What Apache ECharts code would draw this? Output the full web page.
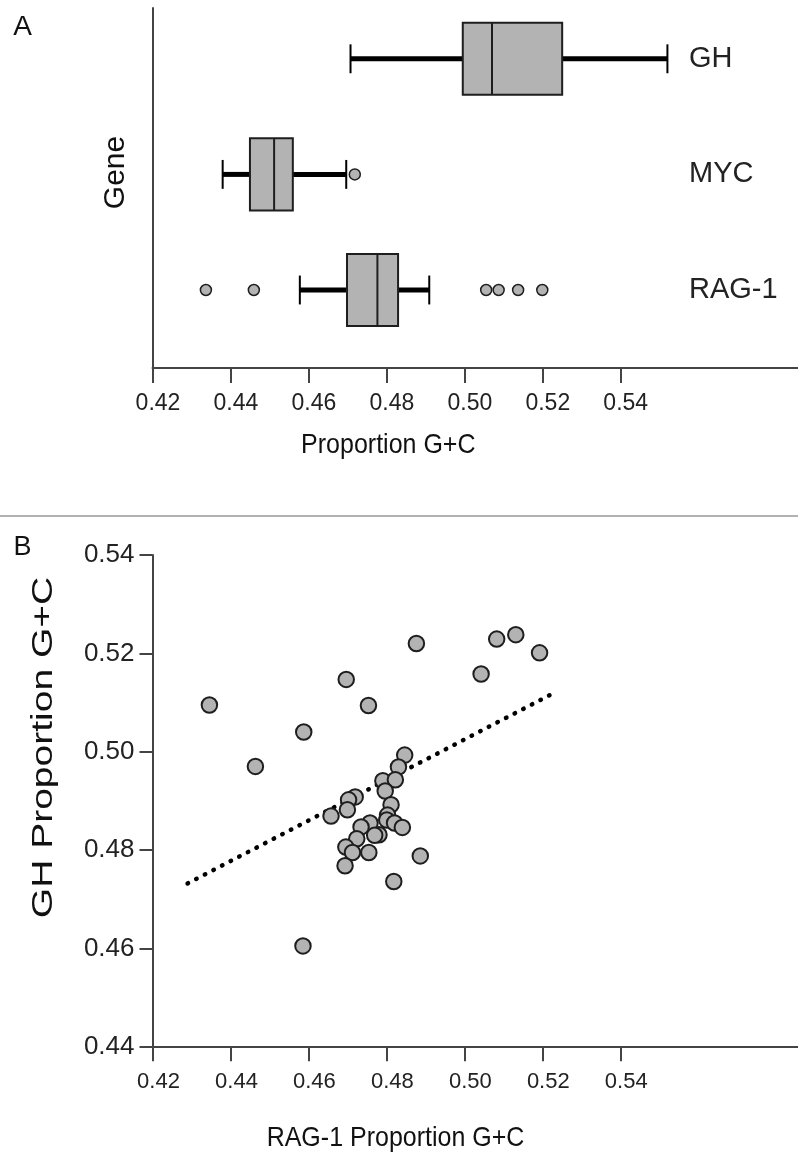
<!DOCTYPE html>
<html>
<head>
<meta charset="utf-8">
<script src="https://cdn.jsdelivr.net/npm/echarts@6/dist/echarts.min.js"></script>
<style>
html,body{margin:0;padding:0;background:#fff;}
#chart{width:798px;height:1153px;}
</style>
</head>
<body>
<div id="chart"></div>
<script>
// ---- Panel A: box plots ----
const genes = ['GH', 'MYC', 'RAG-1'];
const boxLow    = [0.4708, 0.4380, 0.4578];
const boxQ1     = [0.4996, 0.4450, 0.4699];
const boxMedian = [0.5071, 0.4512, 0.4777];
const boxQ3     = [0.5251, 0.4560, 0.4830];
const boxHigh   = [0.5521, 0.4697, 0.4910];
const outlierGene  = ['MYC', 'RAG-1', 'RAG-1', 'RAG-1', 'RAG-1', 'RAG-1', 'RAG-1'];
const outlierValue = [0.4719, 0.4337, 0.4460, 0.5056, 0.5088, 0.5138, 0.5200];
const xTickValues = [0.42, 0.44, 0.46, 0.48, 0.50, 0.52, 0.54];

// ---- Panel B: scatter ----
const ragGC = [0.4346, 0.4464, 0.4588, 0.4697, 0.4754, 0.4877, 0.5043, 0.5083, 0.5132, 0.5193, 0.4586,
  0.4847, 0.4831, 0.4791, 0.4823, 0.4797, 0.4812, 0.4720, 0.4703, 0.4700, 0.4658, 0.4803, 0.4801,
  0.4821, 0.4841, 0.4758, 0.4735, 0.4781, 0.4770, 0.4724, 0.4696, 0.4713, 0.4755, 0.4694, 0.4887, 0.4819];
const ghGC  = [0.5095, 0.4970, 0.5040, 0.5147, 0.5094, 0.5220, 0.5158, 0.5229, 0.5238, 0.5201, 0.4605,
  0.4993, 0.4969, 0.4941, 0.4943, 0.4920, 0.4892, 0.4908, 0.4902, 0.4882, 0.4869, 0.4871, 0.4861,
  0.4855, 0.4846, 0.4855, 0.4847, 0.4831, 0.4830, 0.4823, 0.4806, 0.4795, 0.4795, 0.4768, 0.4788, 0.4736];
const fitX = [0.4290, 0.5236];
const fitY = [0.4732, 0.5122];
const yTickValuesB = [0.44, 0.46, 0.48, 0.50, 0.52, 0.54];

const FONT = '"Liberation Sans", Arial, sans-serif';
const X_MAX = 0.5856;
const GRAY = '#b3b3b3';
const INK = '#1e1e1e';
const AXIS = '#444';

const boxData = genes.map((g, i) => [i, boxLow[i], boxQ1[i], boxMedian[i], boxQ3[i], boxHigh[i]]);
const outlierData = outlierValue.map((v, i) => [v, outlierGene[i]]);
const scatterData = ragGC.map((x, i) => [x, ghGC[i]]);
const fitData = fitX.map((x, i) => [x, fitY[i]]);

function renderBox(params, api) {
  const cat = api.value(0);
  const pLow = api.coord([api.value(1), cat]);
  const pQ1 = api.coord([api.value(2), cat]);
  const pMed = api.coord([api.value(3), cat]);
  const pQ3 = api.coord([api.value(4), cat]);
  const pHigh = api.coord([api.value(5), cat]);
  const band = api.size([0, 1])[1];
  const cy = pMed[1];
  const half = band * 0.312;
  const capHalf = band * 0.125;
  return {
    type: 'group',
    children: [
      {type: 'line', shape: {x1: pLow[0], y1: cy, x2: pQ1[0], y2: cy}, style: {stroke: '#000', lineWidth: 5}},
      {type: 'line', shape: {x1: pQ3[0], y1: cy, x2: pHigh[0], y2: cy}, style: {stroke: '#000', lineWidth: 5}},
      {type: 'line', shape: {x1: pLow[0], y1: cy - capHalf, x2: pLow[0], y2: cy + capHalf}, style: {stroke: '#000', lineWidth: 2}},
      {type: 'line', shape: {x1: pHigh[0], y1: cy - capHalf, x2: pHigh[0], y2: cy + capHalf}, style: {stroke: '#000', lineWidth: 2}},
      {type: 'rect', shape: {x: pQ1[0], y: cy - half, width: pQ3[0] - pQ1[0], height: 2 * half}, style: {fill: GRAY, stroke: INK, lineWidth: 2}},
      {type: 'line', shape: {x1: pMed[0], y1: cy - half, x2: pMed[0], y2: cy + half}, style: {stroke: INK, lineWidth: 2}}
    ]
  };
}

const chart = echarts.init(document.getElementById('chart'), null, {renderer: 'canvas'});
const labelFmt = v => v.toFixed(2);

chart.setOption({
  backgroundColor: '#fff',
  animation: false,
  textStyle: {fontFamily: FONT},
  grid: [
    {left: 152.5, right: 0, top: 8, height: 360},
    {left: 152.5, right: 0, top: 1, height: 346.8},
    {left: 152.5, right: 0, top: 555, height: 491.7}
  ],
  xAxis: [
    {gridIndex: 0, type: 'value', min: 0.42, max: X_MAX, interval: 0.02,
     axisLine: {show: true, lineStyle: {color: AXIS, width: 2}},
     axisTick: {show: true, length: 15, lineStyle: {color: AXIS, width: 2}, customValues: xTickValues},
     axisLabel: {show: true, margin: 24, fontSize: 23, color: '#222', fontFamily: FONT, formatter: labelFmt,
                 customValues: xTickValues, padding: [0, 0, 0, 11]},
     splitLine: {show: false}},
    {gridIndex: 1, type: 'value', min: 0.42, max: X_MAX, show: false},
    {gridIndex: 2, type: 'value', min: 0.42, max: X_MAX, interval: 0.02,
     axisLine: {show: true, lineStyle: {color: AXIS, width: 2}},
     axisTick: {show: true, length: 14.5, lineStyle: {color: AXIS, width: 2}, customValues: xTickValues},
     axisLabel: {show: true, margin: 24, fontSize: 22, color: '#222', fontFamily: FONT, formatter: labelFmt,
                 customValues: xTickValues, padding: [0, 0, 0, 12]},
     splitLine: {show: false}}
  ],
  yAxis: [
    {gridIndex: 0, type: 'value', min: 0, max: 1,
     axisLine: {show: true, lineStyle: {color: AXIS, width: 2}},
     axisTick: {show: false}, axisLabel: {show: false}, splitLine: {show: false}},
    {gridIndex: 1, type: 'category', data: genes, inverse: true,
     axisLine: {show: false}, axisTick: {show: false}, splitLine: {show: false},
     axisLabel: {show: true, inside: false, margin: -536.5, align: 'left', fontSize: 29, color: '#222', fontFamily: FONT}},
    {gridIndex: 2, type: 'value', min: 0.44, max: 0.54, interval: 0.02,
     axisLine: {show: true, lineStyle: {color: AXIS, width: 2}},
     axisTick: {show: true, length: 13, lineStyle: {color: AXIS, width: 2}},
     axisLabel: {show: true, margin: 18, fontSize: 26, color: '#222', fontFamily: FONT, formatter: labelFmt},
     splitLine: {show: false}}
  ],
  series: [
    {type: 'custom', xAxisIndex: 1, yAxisIndex: 1, renderItem: renderBox, data: boxData,
     encode: {x: [1, 2, 3, 4, 5], y: 0}, z: 2},
    {type: 'scatter', xAxisIndex: 1, yAxisIndex: 1, data: outlierData, symbol: 'circle', symbolSize: 11,
     itemStyle: {color: GRAY, borderColor: INK, borderWidth: 1.5, opacity: 1}, z: 3},
    {type: 'line', xAxisIndex: 2, yAxisIndex: 2, data: fitData, symbol: 'none', z: 2,
     lineStyle: {color: '#000', width: 4.5, type: [0.5, 9.2], cap: 'round'}},
    {type: 'scatter', xAxisIndex: 2, yAxisIndex: 2, data: scatterData, symbol: 'circle', symbolSize: 15.5,
     itemStyle: {color: GRAY, borderColor: INK, borderWidth: 2, opacity: 1}, z: 3}
  ],
  graphic: [
    {type: 'text', x: 22.5, y: 27, style: {text: 'A', font: '28px ' + FONT, fill: '#111', align: 'center', verticalAlign: 'middle'}},
    {type: 'text', x: 22.5, y: 548, style: {text: 'B', font: '27px ' + FONT, fill: '#111', align: 'center', verticalAlign: 'middle'}},
    {type: 'text', x: 116, y: 172.5, rotation: Math.PI / 2, style: {text: 'Gene', font: '30px ' + FONT, fill: '#111', align: 'center', verticalAlign: 'middle'}},
    {type: 'text', x: 388.3, y: 445, style: {text: 'Proportion G+C', font: '25px ' + FONT, fill: '#111', align: 'center', verticalAlign: 'middle'}, scaleY: 1.1},
    {type: 'line', shape: {x1: 0, y1: 516, x2: 798, y2: 516}, style: {stroke: '#999', lineWidth: 1.5}},
    {type: 'text', x: 44, y: 747.5, rotation: Math.PI / 2, scaleX: 1.3, style: {text: 'GH Proportion G+C', font: '30px ' + FONT, fill: '#111', align: 'center', verticalAlign: 'middle'}},
    {type: 'text', x: 395.5, y: 1138, style: {text: 'RAG-1 Proportion G+C', font: '25px ' + FONT, fill: '#111', align: 'center', verticalAlign: 'middle'}, scaleY: 1.1}
  ]
});
</script>
</body>
</html>
